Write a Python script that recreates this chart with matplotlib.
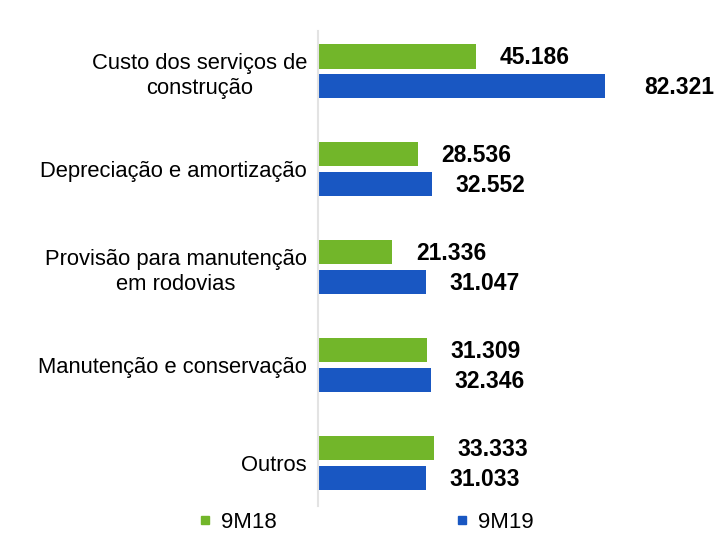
import matplotlib.pyplot as plt
from matplotlib.lines import Line2D
import numpy as np

categories = ['Custo dos serviços de\nconstrução',
              'Depreciação e amortização',
              'Provisão para manutenção\nem rodovias',
              'Manutenção e conservação',
              'Outros']
values_9m18 = [45.186, 28.536, 21.336, 31.309, 33.333]
values_9m19 = [82.321, 32.552, 31.047, 32.346, 31.033]
series_names = ['9M18', '9M19']

green = '#72B62A'
blue = '#1957C2'

plt.rcParams['font.family'] = ['Liberation Sans', 'DejaVu Sans']

fig = plt.figure(figsize=(7.19, 5.40), dpi=100)
ax = fig.add_axes([318 / 719, 34 / 540, 1 - 318 / 719, 475 / 540])

y = np.arange(len(categories))
h = 0.25
off = 0.152
bars1 = ax.barh(y - off, values_9m18, height=h, color=green)
bars2 = ax.barh(y + off, values_9m19, height=h, color=blue)

for bars, vals in ((bars1, values_9m18), (bars2, values_9m19)):
    for b, v in zip(bars, vals):
        pad = 28 if v > 60 else 17
        ax.annotate(f'{v:.3f}', (b.get_width(), b.get_y() + b.get_height() / 2),
                    xytext=(pad, -1), textcoords='offset points',
                    ha='left', va='center', fontsize=16.5, fontweight='bold')

ax.set_xlim(0, 115)
ax.set_ylim(4.44, -0.41)
ax.set_yticks(y)
ax.set_yticklabels(categories, fontsize=15.8, multialignment='center',
                   linespacing=1.3)
ax.tick_params(axis='y', length=0, pad=8)
ax.set_xticks([])
for s in ['top', 'right', 'bottom']:
    ax.spines[s].set_visible(False)
ax.spines['left'].set_color('#e3e3e3')
ax.spines['left'].set_linewidth(1.5)

handles = [Line2D([], [], marker='s', color=c, linestyle='none', markersize=6)
           for c in (green, blue)]
fig.legend(handles, series_names, loc='center', bbox_to_anchor=(0.509, 0.033),
           ncol=2, frameon=False, fontsize=16, columnspacing=8.05,
           handlelength=0.6, handletextpad=0.4)

fig.savefig('out.png', dpi=100)
